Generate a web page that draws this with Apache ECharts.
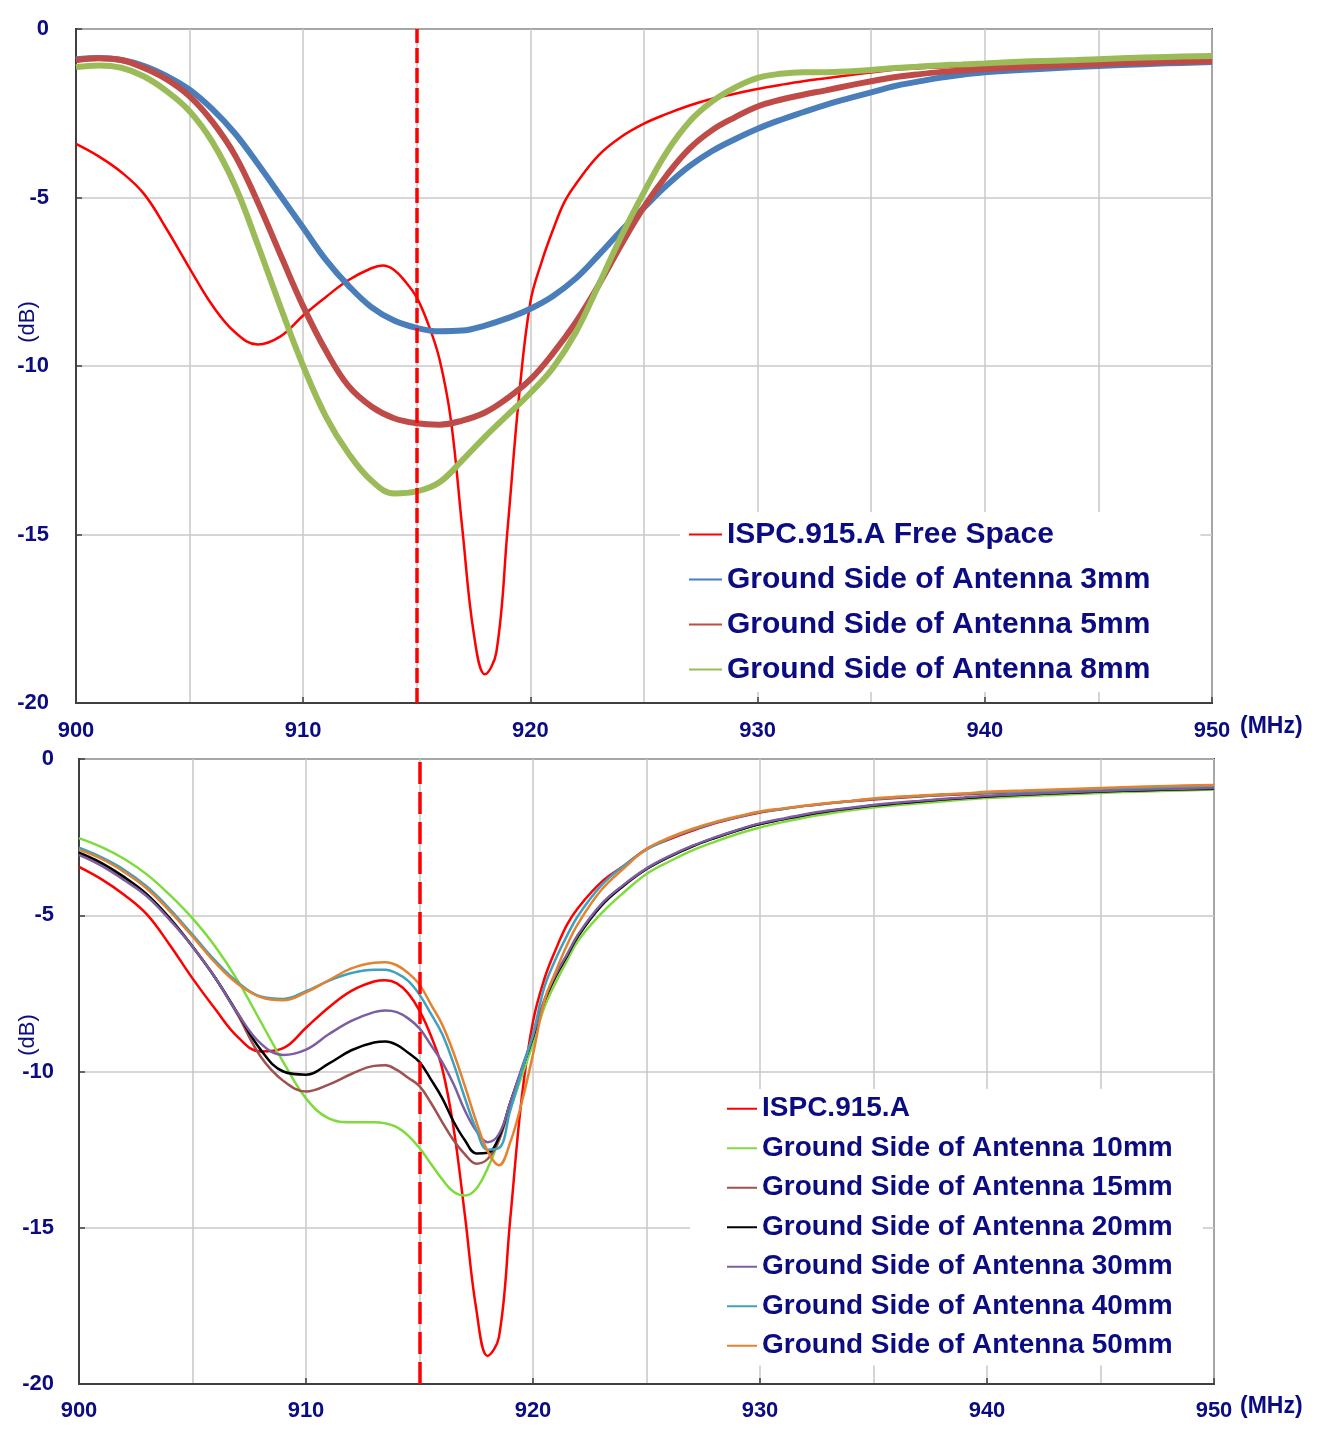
<!DOCTYPE html>
<html><head><meta charset="utf-8">
<script src="https://cdn.jsdelivr.net/npm/echarts@6/dist/echarts.min.js"></script>
<style>html,body{margin:0;padding:0;background:#fff}#c{width:1319px;height:1438px}</style>
</head><body><div id="c"></div>
<script>
const markerFreq = 915;
const xMin = 900, xMax = 950, xStep = 10;
const yMin = -20, yMax = 0, yStep = 5;

// Frequency grids (MHz)
const freqA = [900,901,902,903,904,905,906,907,908,909,910,911,912,913,914,915,916,917,918,919,920,
  921,922,923,924,925,926,927,928,929,930,931,932,933,934,935,936,937,938,939,940,942,944,946,948,950];
const freqB = [900,901,902,903,904,905,906,907,908,909,910,911,912,913,913.5,914,914.5,915,915.5,916,916.5,
  917,917.5,918,918.5,919,919.5,920,920.5,921,921.5,922,923,924,925,926,927,928,929,930,931,932,933,934,
  935,936,937,938,939,940,942,944,946,948,950];

// ---------- Top chart (dB) ----------
const topNames = ['ISPC.915.A Free Space','Ground Side of Antenna 3mm','Ground Side of Antenna 5mm','Ground Side of Antenna 8mm'];
const topRed = [-3.41,-3.78,-4.25,-4.90,-5.95,-7.10,-8.20,-9.00,-9.36,-9.12,-8.50,-7.95,-7.45,-7.10,
  -7.02,-7.15,-7.50,-7.97,-8.75,-9.80,-11.6,-14.8,-17.9,-19.15,-18.5,-14.8,-10.9,-8.1,-6.9,-5.95,-5.13,-4.6,
  -3.75,-3.2,-2.81,-2.52,-2.27,-2.07,-1.92,-1.78,-1.66,-1.55,-1.46,-1.37,-1.29,-1.21,-1.17,-1.14,-1.12,-1.10,
  -1.05,-1.01,-0.98,-0.95,-0.92];
const top3mm = [-0.90,-0.86,-0.92,-1.10,-1.40,-1.80,-2.38,-3.10,-4.00,-4.95,-5.90,-6.85,-7.62,-8.25,-8.65,
  -8.87,-8.97,-8.95,-8.80,-8.58,-8.30,-7.92,-7.40,-6.71,-5.98,-5.30,-4.64,-4.07,-3.62,-3.27,-2.96,-2.70,
  -2.47,-2.25,-2.06,-1.88,-1.70,-1.57,-1.45,-1.36,-1.28,-1.20,-1.13,-1.07,-1.02,-0.98];
const top5mm = [-0.93,-0.87,-0.92,-1.16,-1.50,-2.00,-2.75,-3.75,-5.14,-6.70,-8.23,-9.55,-10.6,-11.2,-11.55,
  -11.70,-11.74,-11.62,-11.38,-10.95,-10.40,-9.62,-8.70,-7.60,-6.40,-5.28,-4.34,-3.55,-3.00,-2.62,-2.30,
  -2.10,-1.95,-1.82,-1.68,-1.55,-1.43,-1.35,-1.28,-1.23,-1.19,-1.12,-1.07,-1.02,-0.98,-0.95];
const top8mm = [-1.13,-1.08,-1.15,-1.41,-1.85,-2.44,-3.35,-4.65,-6.40,-8.25,-10.0,-11.5,-12.6,-13.4,-13.78,
  -13.72,-13.45,-12.8,-12.1,-11.45,-10.8,-10.05,-9.0,-7.6,-6.15,-4.84,-3.65,-2.75,-2.15,-1.74,-1.45,-1.33,
  -1.28,-1.28,-1.26,-1.22,-1.16,-1.12,-1.08,-1.05,-1.02,-0.96,-0.92,-0.87,-0.83,-0.80];

// ---------- Bottom chart (dB) ----------
const botNames = ['ISPC.915.A','Ground Side of Antenna 10mm','Ground Side of Antenna 15mm','Ground Side of Antenna 20mm','Ground Side of Antenna 30mm','Ground Side of Antenna 40mm','Ground Side of Antenna 50mm'];
const botRed = [-3.45,-3.85,-4.35,-4.98,-5.95,-7.02,-8.0,-8.9,-9.36,-9.25,-8.6,-7.95,-7.42,-7.12,
  -7.08,-7.18,-7.5,-8.05,-8.85,-9.9,-11.8,-14.6,-17.6,-19.1,-18.5,-14.7,-10.86,-8.4,-7.04,-6.1,-5.3,-4.75,
  -3.95,-3.42,-2.88,-2.57,-2.3,-2.06,-1.87,-1.71,-1.6,-1.5,-1.42,-1.35,-1.3,-1.25,-1.2,-1.16,-1.13,-1.1,
  -1.04,-0.99,-0.94,-0.89,-0.85];
const bot10mm = [-2.53,-2.82,-3.2,-3.7,-4.35,-5.1,-6.0,-7.1,-8.4,-9.7,-10.86,-11.5,-11.62,-11.62,
  -11.66,-11.78,-12.05,-12.45,-12.95,-13.45,-13.85,-13.97,-13.75,-13.1,-12.2,-11.2,-10.15,-9.1,-7.95,-7.15,-6.45,-5.8,
  -4.95,-4.27,-3.68,-3.28,-2.93,-2.65,-2.4,-2.19,-2.02,-1.87,-1.75,-1.64,-1.55,-1.48,-1.42,-1.36,-1.3,-1.25,
  -1.18,-1.12,-1.06,-1.02,-0.98];
const bot15mm = [-3.04,-3.4,-3.82,-4.34,-5.1,-6.0,-7.0,-8.2,-9.52,-10.3,-10.64,-10.42,-10.08,-9.82,
  -9.8,-9.95,-10.2,-10.47,-11.0,-11.62,-12.2,-12.65,-12.95,-12.8,-12.2,-11.0,-9.95,-8.9,-7.75,-6.95,-6.3,-5.65,
  -4.7,-4.05,-3.52,-3.13,-2.8,-2.53,-2.29,-2.08,-1.93,-1.79,-1.67,-1.58,-1.49,-1.42,-1.36,-1.3,-1.25,-1.2,
  -1.13,-1.07,-1.02,-0.98,-0.95];
const bot20mm = [-3.0,-3.33,-3.78,-4.34,-5.1,-6.0,-7.0,-8.15,-9.3,-10.0,-10.1,-9.75,-9.32,-9.07,
  -9.04,-9.15,-9.4,-9.7,-10.25,-10.85,-11.6,-12.2,-12.62,-12.6,-12.1,-11.0,-9.95,-8.9,-7.75,-6.95,-6.3,-5.65,
  -4.7,-4.05,-3.52,-3.13,-2.8,-2.53,-2.29,-2.08,-1.93,-1.79,-1.67,-1.58,-1.49,-1.42,-1.36,-1.3,-1.25,-1.2,
  -1.13,-1.07,-1.02,-0.98,-0.95];
const bot30mm = [-3.07,-3.42,-3.88,-4.4,-5.15,-6.0,-7.0,-8.15,-9.1,-9.47,-9.3,-8.81,-8.38,-8.1,
  -8.05,-8.1,-8.3,-8.62,-9.15,-9.7,-10.4,-11.25,-11.9,-12.26,-12.0,-11.0,-9.9,-8.85,-7.7,-6.9,-6.25,-5.6,
  -4.65,-4.02,-3.5,-3.11,-2.78,-2.51,-2.27,-2.06,-1.91,-1.77,-1.65,-1.56,-1.47,-1.4,-1.34,-1.28,-1.23,-1.18,
  -1.11,-1.05,-1.0,-0.96,-0.93];
const bot40mm = [-2.84,-3.15,-3.55,-4.09,-4.8,-5.62,-6.45,-7.15,-7.6,-7.68,-7.43,-7.1,-6.85,-6.74,
  -6.74,-6.86,-7.1,-7.54,-8.15,-8.8,-9.75,-10.85,-11.85,-12.5,-12.45,-11.24,-10.0,-8.8,-7.3,-6.4,-5.65,-5.0,
  -4.05,-3.42,-2.9,-2.55,-2.27,-2.04,-1.86,-1.7,-1.6,-1.5,-1.42,-1.35,-1.28,-1.23,-1.19,-1.15,-1.11,-1.08,
  -1.03,-0.98,-0.93,-0.89,-0.85];
const bot50mm = [-2.91,-3.2,-3.62,-4.15,-4.87,-5.68,-6.52,-7.2,-7.62,-7.72,-7.47,-7.08,-6.7,-6.52,
  -6.5,-6.6,-6.85,-7.22,-7.85,-8.5,-9.4,-10.47,-11.6,-12.55,-13.0,-12.26,-11.0,-9.45,-7.75,-6.8,-5.95,-5.25,
  -4.2,-3.5,-2.88,-2.52,-2.24,-2.02,-1.84,-1.68,-1.58,-1.49,-1.41,-1.34,-1.26,-1.21,-1.17,-1.13,-1.1,-1.05,
  -1.0,-0.95,-0.9,-0.86,-0.83];

const topColors = ['#ff0000','#4a7ebb','#be4b48','#9bbb59'];
const topWidths = [2.5,6,6,6];
const botColors = ['#ff0000','#7ddc3c','#a0504e','#000000','#7b5fa0','#3fa0bf','#e3832f'];

const FONT = '"Liberation Sans", Arial, sans-serif';
const NAVY = '#0c0c82';

function pairs(f, v) { return f.map((x, i) => [x, v[i]]); }

const chart = echarts.init(document.getElementById('c'), null, {renderer: 'canvas'});

function xAxisOpt(gi, margin) {
  return {
    gridIndex: gi, type: 'value', min: xMin, max: xMax, interval: xStep,
    axisLine: {show: true, onZero: false, lineStyle: {color: '#404040', width: 2}},
    axisTick: {show: true, inside: true, length: 6, lineStyle: {color: '#404040', width: 1.5}},
    minorTick: {show: false, splitNumber: 2},
    splitLine: {show: true, lineStyle: {color: '#c8c8c8', width: 1.5}},
    minorSplitLine: {show: true, lineStyle: {color: '#c8c8c8', width: 1.5}},
    axisLabel: {color: NAVY, fontWeight: 'bold', fontSize: 22, fontFamily: FONT, margin: margin}
  };
}
function yAxisOpt(gi, margin) {
  return {
    gridIndex: gi, type: 'value', min: yMin, max: yMax, interval: yStep,
    axisLine: {show: true, onZero: false, lineStyle: {color: '#404040', width: 2}},
    axisTick: {show: true, inside: true, length: 6, lineStyle: {color: '#404040', width: 1.5}},
    splitLine: {show: true, lineStyle: {color: '#c8c8c8', width: 1.5}},
    axisLabel: {color: NAVY, fontWeight: 'bold', fontSize: 22, fontFamily: FONT, margin: margin}
  };
}

const topData = [pairs(freqB, topRed), pairs(freqA, top3mm), pairs(freqA, top5mm), pairs(freqA, top8mm)];
const botData = [botRed, bot10mm, bot15mm, bot20mm, bot30mm, bot40mm, bot50mm].map(v => pairs(freqB, v));

const series = [];
topNames.forEach((n, i) => {
  series.push({
    name: n, type: 'line', xAxisIndex: 0, yAxisIndex: 0, data: topData[i],
    smooth: 0.4, symbol: 'none', z: 3 + i,
    lineStyle: {color: topColors[i], width: topWidths[i]}, itemStyle: {color: topColors[i]},
    markLine: i === topNames.length - 1 ? {
      silent: true, symbol: 'none', label: {show: false}, z: 20,
      lineStyle: {color: '#ff0000', width: 3.5, type: [15, 5]},
      data: [{xAxis: markerFreq}]
    } : undefined
  });
});
botNames.forEach((n, i) => {
  series.push({
    name: n, type: 'line', xAxisIndex: 1, yAxisIndex: 1, data: botData[i],
    smooth: 0.4, symbol: 'none', z: 3 + i,
    lineStyle: {color: botColors[i], width: 2.5}, itemStyle: {color: botColors[i]},
    markLine: i === botNames.length - 1 ? {
      silent: true, symbol: 'none', label: {show: false}, z: 20,
      lineStyle: {color: '#ff0000', width: 3.5, type: [22, 8]},
      data: [{xAxis: markerFreq}]
    } : undefined
  });
});

chart.setOption({
  backgroundColor: '#ffffff',
  animation: false,
  grid: [
    {left: 76, top: 29, width: 1136, height: 674, show: true, borderColor: '#404040', borderWidth: 2, backgroundColor: 'transparent'},
    {left: 79, top: 759, width: 1135, height: 625, show: true, borderColor: '#404040', borderWidth: 2, backgroundColor: 'transparent'}
  ],
  xAxis: [xAxisOpt(0, 17), xAxisOpt(1, 16)],
  yAxis: [yAxisOpt(0, 27), yAxisOpt(1, 25)],
  legend: [
    {
      data: topNames, orient: 'vertical', left: 680, top: 512,
      itemWidth: 33, itemHeight: 14, itemGap: 0,
      padding: [0, 50, 0, 8], backgroundColor: '#ffffff',
      selectedMode: false,
      itemStyle: {opacity: 0},
      textStyle: {color: NAVY, fontWeight: 'bold', fontSize: 30, fontFamily: FONT, lineHeight: 45}
    },
    {
      data: botNames, orient: 'vertical', left: 690, top: 1089,
      itemWidth: 30, itemHeight: 12, itemGap: 0,
      padding: [0, 30, 0, 36], backgroundColor: '#ffffff',
      selectedMode: false,
      itemStyle: {opacity: 0},
      textStyle: {color: NAVY, fontWeight: 'bold', fontSize: 28, fontFamily: FONT, lineHeight: 39.5}
    }
  ],
  graphic: [
    {type: 'text', x: 28, y: 322, rotation: Math.PI / 2,
     style: {text: '(dB)', fill: NAVY, font: '22px ' + FONT, textAlign: 'center', textVerticalAlign: 'middle'}},
    {type: 'text', x: 28, y: 1035, rotation: Math.PI / 2,
     style: {text: '(dB)', fill: NAVY, font: '22px ' + FONT, textAlign: 'center', textVerticalAlign: 'middle'}},
    {type: 'text', x: 1240, y: 727,
     style: {text: '(MHz)', fill: NAVY, font: 'bold 23px ' + FONT, textAlign: 'left', textVerticalAlign: 'middle'}},
    {type: 'text', x: 1240, y: 1407,
     style: {text: '(MHz)', fill: NAVY, font: 'bold 23px ' + FONT, textAlign: 'left', textVerticalAlign: 'middle'}}
  ],
  series: series
});
</script>
</body></html>
